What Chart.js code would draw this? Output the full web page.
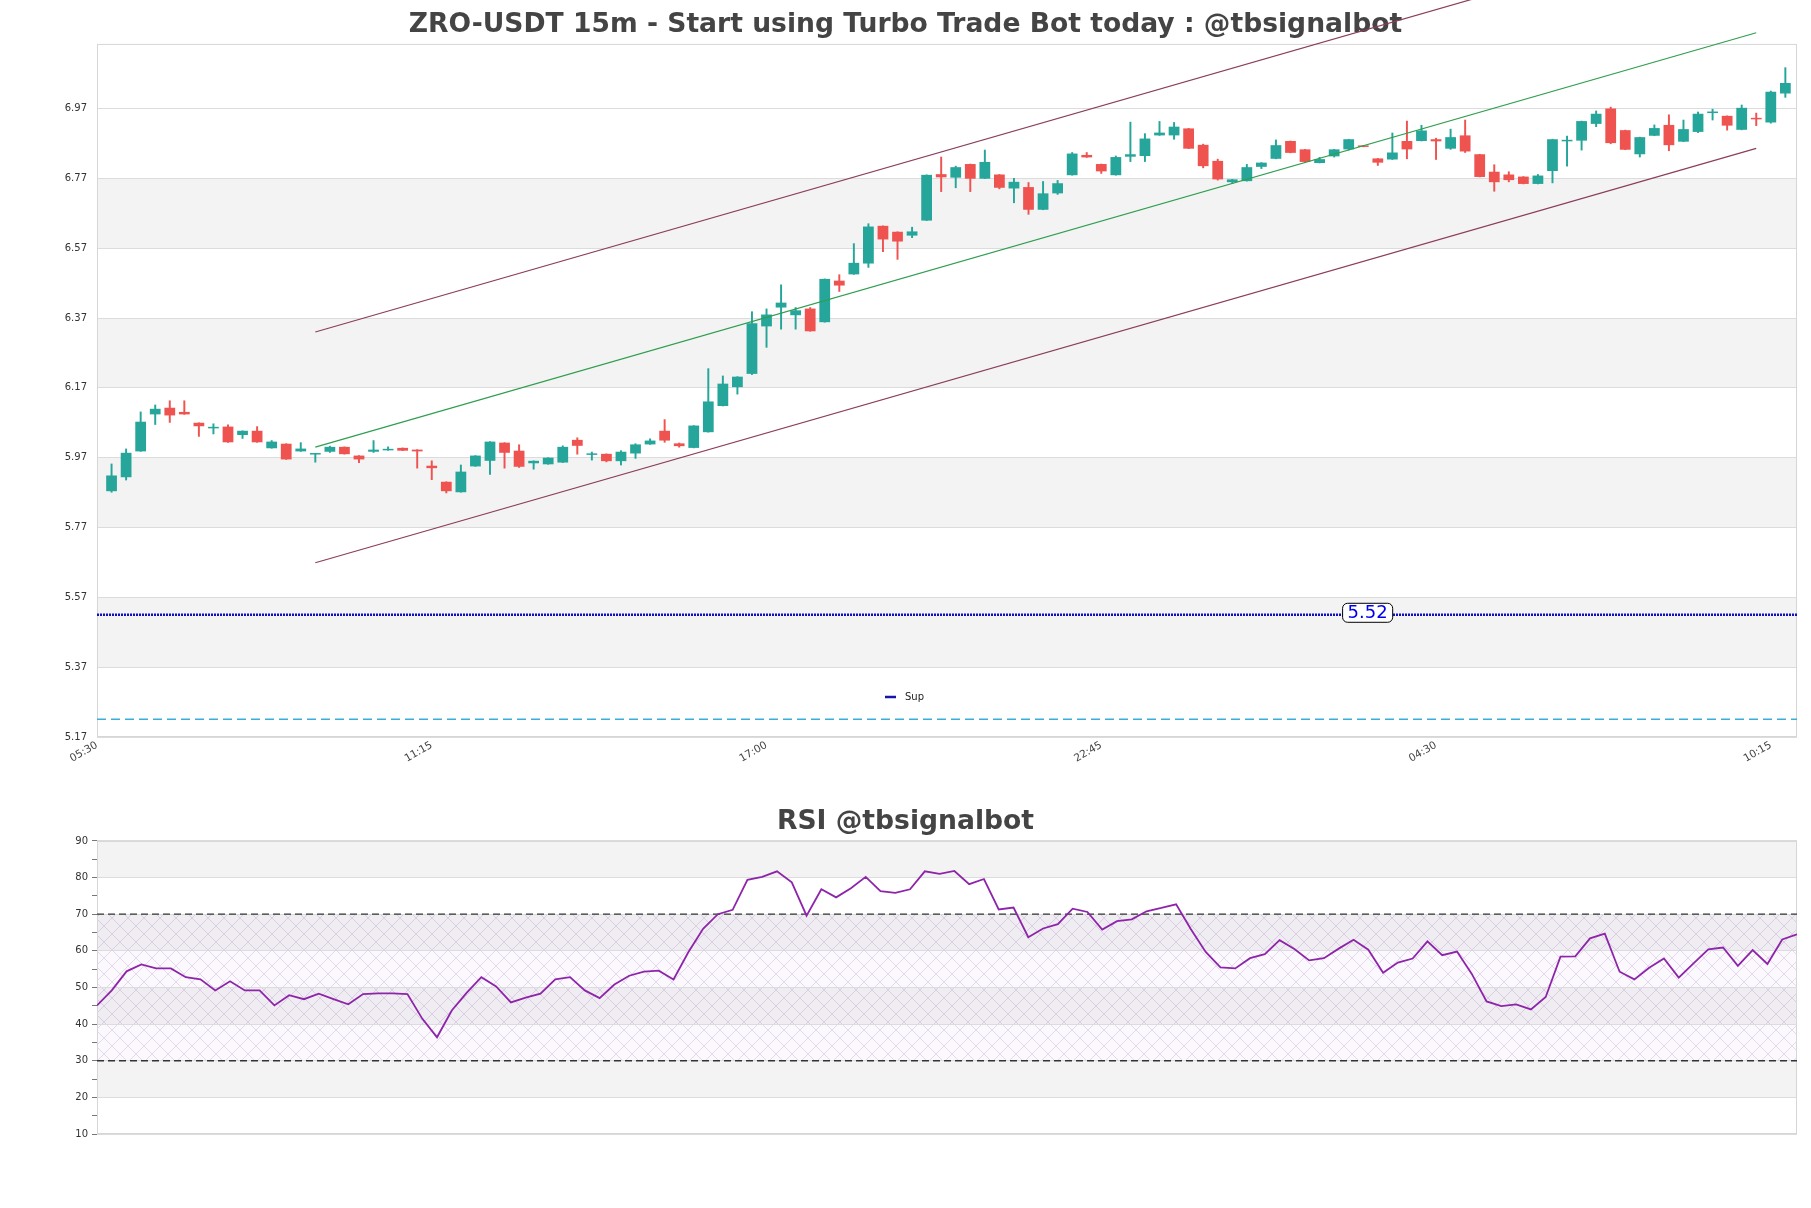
<!DOCTYPE html>
<html>
<head>
<meta charset="utf-8">
<script src="https://cdn.jsdelivr.net/npm/chart.js@4.4.1/dist/chart.umd.min.js"></script>
<style>
  html, body { margin: 0; padding: 0; background: #fff; }
  #main { position: absolute; left: 0; top: 0; }
  #rsi { position: absolute; left: 0; top: 790px; }
</style>
</head>
<body>
<canvas id="main" width="1811" height="790"></canvas>
<canvas id="rsi" width="1811" height="418"></canvas>
<script>
// 15m candles, 05:45 -> 10:30 next day
const opens = [5.874,5.914,5.988,6.094,6.113,6.101,6.070,6.054,6.059,6.035,6.047,5.997,6.010,5.988,5.979,5.987,6.001,5.976,5.987,5.991,
  5.998,5.993,5.947,5.901,5.871,5.945,5.961,6.013,5.990,5.954,5.951,5.956,6.021,5.978,5.981,5.960,5.982,6.008,6.047,6.011,
  5.998,6.043,6.118,6.172,6.210,6.346,6.400,6.378,6.397,6.358,6.477,6.495,6.526,6.634,6.617,6.606,6.649,6.782,6.772,6.811,
  6.769,6.781,6.741,6.745,6.680,6.727,6.779,6.837,6.811,6.779,6.832,6.834,6.893,6.893,6.913,6.866,6.820,6.759,6.762,6.803,
  6.826,6.877,6.853,6.814,6.833,6.853,6.864,6.827,6.824,6.877,6.877,6.882,6.855,6.893,6.839,6.789,6.781,6.775,6.754,6.791,
  6.876,6.878,6.926,6.970,6.908,6.839,6.892,6.923,6.875,6.903,6.957,6.949,6.909,6.942,6.930,7.013];
const highs = [5.952,5.995,6.101,6.121,6.133,6.133,6.070,6.067,6.064,6.047,6.059,6.019,6.010,6.013,5.981,6.003,6.001,5.976,6.019,6.001,
  5.998,5.993,5.961,5.901,5.949,5.976,6.016,6.013,6.007,5.961,5.970,6.004,6.027,5.986,5.981,5.990,6.010,6.024,6.079,6.012,
  6.062,6.225,6.204,6.202,6.388,6.396,6.465,6.400,6.400,6.482,6.494,6.583,6.640,6.634,6.617,6.630,6.780,6.831,6.805,6.811,
  6.851,6.781,6.770,6.758,6.761,6.764,6.844,6.844,6.811,6.834,6.931,6.898,6.933,6.930,6.913,6.868,6.825,6.767,6.810,6.815,
  6.880,6.877,6.853,6.830,6.853,6.882,6.864,6.827,6.900,6.934,6.922,6.885,6.911,6.937,6.839,6.809,6.789,6.775,6.781,6.882,
  6.891,6.934,6.963,6.974,6.908,6.888,6.923,6.952,6.937,6.960,6.968,6.949,6.980,6.957,7.020,7.087];
const lows = [5.871,5.906,5.988,6.065,6.071,6.094,6.031,6.038,6.014,6.025,6.014,5.997,5.965,5.988,5.957,5.985,5.980,5.956,5.985,5.991,
  5.990,5.940,5.907,5.869,5.871,5.945,5.922,5.940,5.942,5.937,5.951,5.956,5.980,5.963,5.958,5.949,5.968,6.008,6.014,6.000,
  5.998,6.043,6.118,6.152,6.208,6.286,6.338,6.338,6.332,6.358,6.446,6.495,6.515,6.560,6.538,6.600,6.649,6.732,6.743,6.732,
  6.769,6.740,6.700,6.667,6.680,6.724,6.779,6.830,6.784,6.779,6.818,6.818,6.893,6.882,6.855,6.800,6.765,6.755,6.762,6.798,
  6.826,6.843,6.815,6.814,6.831,6.851,6.860,6.807,6.824,6.826,6.877,6.824,6.853,6.844,6.774,6.733,6.760,6.754,6.754,6.757,
  6.805,6.851,6.918,6.869,6.852,6.831,6.892,6.849,6.875,6.901,6.937,6.908,6.909,6.921,6.928,7.002];
const closes = [5.919,5.984,6.073,6.110,6.091,6.094,6.060,6.056,6.014,6.047,6.014,6.016,5.965,5.996,5.981,6.001,5.980,5.965,5.993,5.993,
  5.990,5.988,5.940,5.874,5.930,5.976,6.016,5.984,5.944,5.961,5.970,6.001,6.004,5.981,5.960,5.987,6.008,6.019,6.019,6.003,
  6.062,6.131,6.182,6.202,6.355,6.380,6.414,6.392,6.332,6.482,6.463,6.528,6.632,6.595,6.589,6.618,6.780,6.773,6.802,6.769,
  6.817,6.743,6.760,6.680,6.727,6.756,6.841,6.830,6.790,6.831,6.839,6.884,6.901,6.918,6.855,6.805,6.767,6.767,6.802,6.815,
  6.865,6.843,6.817,6.825,6.853,6.882,6.860,6.815,6.844,6.853,6.907,6.876,6.888,6.847,6.774,6.759,6.765,6.754,6.778,6.882,
  6.880,6.934,6.955,6.871,6.852,6.888,6.914,6.865,6.911,6.955,6.959,6.921,6.972,6.939,7.018,7.043];

const rsiValues = [45.1,49.2,54.4,56.3,55.2,55.2,52.8,52.2,49.2,51.7,
  49.2,49.2,45.1,47.9,46.8,48.3,46.8,45.4,48.2,48.4,
  48.4,48.2,41.5,36.4,43.7,48.5,52.8,50.3,45.9,47.2,
  48.3,52.2,52.8,49.2,47.1,50.8,53.2,54.3,54.6,52.2,
  59.6,66.0,70.0,71.2,79.4,80.2,81.7,78.7,69.6,76.8,
  74.6,77.1,80.2,76.3,75.8,76.8,81.7,81.0,81.8,78.2,
  79.6,71.3,71.8,63.7,66.1,67.3,71.5,70.6,65.8,68.1,
  68.6,70.8,71.7,72.7,65.9,59.7,55.5,55.2,58.0,59.1,
  62.9,60.5,57.4,58.0,60.6,63.0,60.3,54.0,56.8,57.9,
  62.6,58.8,59.8,53.7,46.2,44.9,45.4,44.0,47.4,58.4,
  58.5,63.4,64.7,54.3,52.2,55.4,57.9,52.7,56.6,60.4,
  60.9,55.9,60.2,56.4,63.1,64.5];

const xTickLabels = ['05:30', '11:15', '17:00', '22:45', '04:30', '10:15'];
const priceTicks = [5.17, 5.37, 5.57, 5.77, 5.97, 6.17, 6.37, 6.57, 6.77, 6.97];
const rsiTicks = [10, 20, 30, 40, 50, 60, 70, 80, 90];

// channel: start / end candle, values at both ends
const channelX = [15, 114];
const channelMid = [6.000, 7.187];
const channelUpper = [6.330, 7.517];
const channelLower = [5.669, 6.856];

const supLevel = 5.52;
const lowLevel = 5.221;
const rsiLevels = [30, 70];

const UP = '#26a69a', DOWN = '#ef5350';
const candleX = opens.map((_, i) => i + 1);
const candleColors = opens.map((o, i) => closes[i] >= o ? UP : DOWN);

Chart.defaults.font.family = "'DejaVu Sans', sans-serif";
Chart.defaults.color = '#333';

const bandsPlugin = {
  id: 'bands',
  beforeDraw(chart, args, opts) {
    const { ctx, chartArea: a, scales: { y } } = chart;
    ctx.save();
    ctx.fillStyle = '#f3f3f3';
    for (let k = 1; k < opts.ticks.length - 1; k += 2) {
      const top = y.getPixelForValue(opts.ticks[k + 1]);
      const bot = y.getPixelForValue(opts.ticks[k]);
      ctx.fillRect(a.left, top, a.right - a.left, bot - top);
    }
    if (opts.hatch) {
      const c = document.createElement('canvas');
      c.width = c.height = 16;
      const g = c.getContext('2d');
      g.strokeStyle = 'rgba(150,110,180,0.30)';
      g.lineWidth = 0.8;
      g.beginPath();
      g.moveTo(0, 0); g.lineTo(16, 16);
      g.moveTo(16, 0); g.lineTo(0, 16);
      g.stroke();
      const top = y.getPixelForValue(opts.hatch[1]);
      const bot = y.getPixelForValue(opts.hatch[0]);
      ctx.fillStyle = 'rgba(200,170,220,0.07)';
      ctx.fillRect(a.left, top, a.right - a.left, bot - top);
      ctx.fillStyle = ctx.createPattern(c, 'repeat');
      ctx.fillRect(a.left, top, a.right - a.left, bot - top);
    }
    ctx.restore();
  },
  beforeDatasetsDraw(chart) {
    const { ctx, chartArea: a } = chart;
    ctx.save();
    ctx.strokeStyle = '#d6d6d6';
    ctx.lineWidth = 1;
    ctx.strokeRect(a.left + 0.5, a.top + 0.5, a.right - a.left - 1, a.bottom - a.top - 1);
    ctx.restore();
  }
};

const levelPlugin = {
  id: 'levelLabel',
  afterDatasetsDraw(chart) {
    const { ctx, scales: { x, y } } = chart;
    const px = x.getPixelForValue(87.3), py = y.getPixelForValue(supLevel) - 2;
    const txt = supLevel.toFixed(2);
    ctx.save();
    ctx.font = "18px 'DejaVu Sans'";
    const w = ctx.measureText(txt).width + 10, h = 19;
    ctx.beginPath();
    ctx.roundRect(px - w / 2, py - h / 2, w, h, 5);
    ctx.fillStyle = '#fff';
    ctx.fill();
    ctx.strokeStyle = '#000';
    ctx.lineWidth = 1;
    ctx.stroke();
    ctx.fillStyle = '#0000ee';
    ctx.textAlign = 'center';
    ctx.textBaseline = 'middle';
    ctx.fillText(txt, px, py + 1);

    // legend
    const lx = 885, ly = 697;
    ctx.strokeStyle = '#1515a8';
    ctx.lineWidth = 2.5;
    ctx.beginPath();
    ctx.moveTo(lx, ly); ctx.lineTo(lx + 11, ly);
    ctx.stroke();
    ctx.font = "10px 'DejaVu Sans'";
    ctx.fillStyle = '#222';
    ctx.textAlign = 'left';
    ctx.fillText('Sup', lx + 20, ly);
    ctx.restore();
  }
};

function hline(y0, x0, x1, color, width, dash, order) {
  return {
    type: 'line', data: [{ x: x0, y: y0 }, { x: x1, y: y0 }],
    borderColor: color, borderWidth: width, borderDash: dash,
    pointRadius: 0, order: order
  };
}
function trend(vals, color) {
  return {
    type: 'line', data: [{ x: channelX[0], y: vals[0] }, { x: channelX[1], y: vals[1] }],
    borderColor: color, borderWidth: 1.2, pointRadius: 0, clip: false, order: 0
  };
}

new Chart(document.getElementById('main'), {
  type: 'bar',
  data: {
    datasets: [
      trend(channelUpper, '#8b3d5c'),
      trend(channelMid, '#2f9e4f'),
      trend(channelLower, '#8b3d5c'),
      hline(supLevel, 0, 116.8, '#1010c0', 2.5, [2, 1], 0),
      hline(lowLevel, 0, 116.8, '#3aaed8', 1.5, [9, 5], 0),
      {
        label: 'body',
        data: candleX.map((x, i) => ({ x: x, y: [opens[i], closes[i]] })),
        backgroundColor: candleColors,
        grouped: false, barPercentage: 0.74, categoryPercentage: 1,
        minBarLength: 1.5, order: 1
      },
      {
        label: 'wick',
        data: candleX.map((x, i) => ({ x: x, y: [lows[i], highs[i]] })),
        backgroundColor: candleColors,
        grouped: false, barThickness: 1.3, minBarLength: 1, order: 2
      }
    ]
  },
  options: {
    responsive: false,
    devicePixelRatio: 1,
    animation: false,
    layout: { padding: { left: 14, right: 14, top: 0, bottom: 0 } },
    plugins: {
      legend: { display: false },
      tooltip: { enabled: false },
      title: {
        display: true,
        text: 'ZRO-USDT 15m - Start using Turbo Trade Bot today : @tbsignalbot',
        color: '#444',
        font: { size: 26.6, weight: 'bold' },
        padding: { top: 9, bottom: 3 }
      },
      bands: { ticks: priceTicks }
    },
    scales: {
      x: {
        type: 'linear', min: 0, max: 116.8, offset: false,
        grid: { display: false, offset: false, drawTicks: false },
        border: { display: false },
        afterBuildTicks: s => { s.ticks = xTickLabels.map((_, k) => ({ value: k * 23 })); },
        afterFit: s => { s.height = 53; },
        ticks: {
          autoSkip: false, minRotation: 30, maxRotation: 30, padding: 2,
          color: '#444', font: { size: 10.5 },
          callback: (v, i) => xTickLabels[i]
        }
      },
      y: {
        type: 'linear', min: 5.17, max: 7.155,
        grid: { color: '#dcdcdc', drawTicks: false },
        border: { display: false },
        afterBuildTicks: s => { s.ticks = priceTicks.map(v => ({ value: v })); },
        afterFit: s => { s.width = 83; },
        ticks: { padding: 10, font: { size: 10 }, color: '#333', callback: v => v.toFixed(2) }
      }
    }
  },
  plugins: [bandsPlugin, levelPlugin]
});

new Chart(document.getElementById('rsi'), {
  type: 'line',
  data: {
    datasets: [
      {
        label: 'RSI',
        data: rsiValues.map((v, i) => ({ x: i, y: v })),
        borderColor: '#8e24aa', borderWidth: 1.8, pointRadius: 0, tension: 0, order: 0
      },
      hline(rsiLevels[0], 0, rsiValues.length - 1, '#333', 1.3, [7, 4], 1),
      hline(rsiLevels[1], 0, rsiValues.length - 1, '#333', 1.3, [7, 4], 1)
    ]
  },
  options: {
    responsive: false,
    devicePixelRatio: 1,
    animation: false,
    layout: { padding: { left: 14, right: 14, top: 0, bottom: 74 } },
    plugins: {
      legend: { display: false },
      tooltip: { enabled: false },
      title: {
        display: true,
        text: 'RSI @tbsignalbot',
        color: '#444',
        font: { size: 26.6, weight: 'bold' },
        padding: { top: 16, bottom: 3 }
      },
      bands: { ticks: rsiTicks, hatch: rsiLevels }
    },
    scales: {
      x: { type: 'linear', min: 0, max: rsiValues.length - 1, display: false },
      y: {
        type: 'linear', min: 10, max: 90,
        border: { display: false },
        grid: {
          color: c => (c.tick && c.tick.value % 10 === 0) ? '#dcdcdc' : 'rgba(0,0,0,0)',
          tickColor: '#777', tickLength: 5
        },
        afterBuildTicks: s => {
          const t = [];
          for (let v = rsiTicks[0]; v <= rsiTicks[rsiTicks.length - 1]; v += 5) t.push({ value: v });
          s.ticks = t;
        },
        afterFit: s => { s.width = 83; },
        ticks: { padding: 4, font: { size: 10 }, color: '#333', callback: v => v % 10 === 0 ? v : '' }
      }
    }
  },
  plugins: [bandsPlugin]
});
</script>
</body>
</html>
